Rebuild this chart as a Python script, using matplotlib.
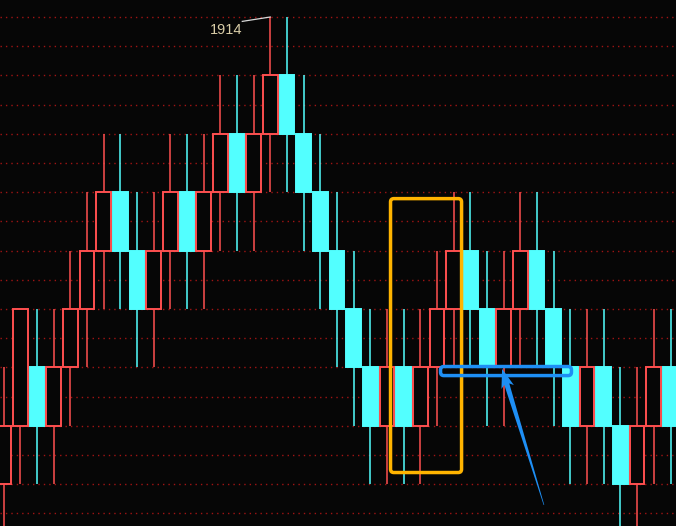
import matplotlib
matplotlib.use("Agg")
import matplotlib.pyplot as plt
from matplotlib.patches import Rectangle, FancyBboxPatch, Polygon
import numpy as np

# renko style bricks, price in points (grid every 1 point, brick = 2 points)
opens = [1898, 1900, 1902, 1900, 1902, 1904, 1906, 1908, 1906, 1904,
         1906, 1908, 1906, 1908, 1910, 1908, 1910, 1912, 1910, 1908,
         1906, 1904, 1902, 1900, 1902, 1900, 1902, 1904, 1906, 1904,
         1902, 1904, 1906, 1904, 1902, 1900, 1902, 1900, 1898, 1900,
         1902]
closes = [1900, 1904, 1900, 1902, 1904, 1906, 1908, 1906, 1904, 1906,
          1908, 1906, 1908, 1910, 1908, 1910, 1912, 1910, 1908, 1906,
          1904, 1902, 1900, 1902, 1900, 1902, 1904, 1906, 1904, 1902,
          1904, 1906, 1904, 1902, 1900, 1902, 1900, 1898, 1900, 1902,
          1900]
highs = [1902, 1904, 1904, 1904, 1906, 1908, 1910, 1910, 1908, 1908,
         1910, 1910, 1910, 1912, 1912, 1912, 1914, 1914, 1912, 1910,
         1908, 1906, 1904, 1904, 1904, 1904, 1906, 1908, 1908, 1906,
         1906, 1908, 1908, 1906, 1904, 1904, 1904, 1902, 1902, 1904,
         1904]
lows = [1896, 1898, 1898, 1898, 1900, 1902, 1904, 1904, 1902, 1902,
        1904, 1904, 1904, 1906, 1906, 1906, 1908, 1908, 1906, 1904,
        1902, 1900, 1898, 1898, 1898, 1898, 1900, 1902, 1902, 1900,
        1900, 1902, 1902, 1900, 1898, 1898, 1898, 1896, 1896, 1898,
        1898]
peak_label = "1914"

# highlighted areas (candle index, price)
yellow_box = (23.21, 1898.40, 27.47, 1907.78)
blue_box = (26.21, 1901.72, 34.06, 1902.03)
arrow_tail = (32.41, 1897.29)
arrow_tip = (29.9, 1901.95)

BG = "#060606"
RED = "#ff5050"
CYAN = "#52ffff"
GRID = "#a01414"

W, H = 676, 526
fig = plt.figure(figsize=(W / 100, H / 100), dpi=100, facecolor=BG)
ax = fig.add_axes([0, 0, 1, 1])
ax.set_facecolor(BG)
xmin, xmax = -0.21, -0.21 + W / 16.675
ymin, ymax = 1914 - 509 / 29.2, 1914 + 17 / 29.2
ax.set_xlim(xmin, xmax)
ax.set_ylim(ymin, ymax)
ax.axis("off")
sx = W / (xmax - xmin)
sy = H / (ymax - ymin)

for p in range(1896, 1915):
    ax.axhline(p, color=GRID, lw=1.0, linestyle=(0, (1.0, 2.9)), zorder=1)

bw = 0.88
for i, (o, c, h, l) in enumerate(zip(opens, closes, highs, lows)):
    up = c > o
    col = RED if up else CYAN
    top, bot = max(o, c), min(o, c)
    if h > top:
        ax.plot([i, i], [top, h], color=col, lw=1.1, zorder=2, solid_capstyle="butt")
    if l < bot:
        ax.plot([i, i], [l, bot], color=col, lw=1.1, zorder=2, solid_capstyle="butt")
    ax.add_patch(Rectangle((i - bw / 2, bot), bw, top - bot,
                           facecolor=BG if up else col, edgecolor=col,
                           lw=1.4, zorder=3))

# peak label
pk = int(np.argmax(highs))
ax.text(pk - 2.65, highs[pk] - 0.45, peak_label, color="#d8cca6", fontsize=10.5,
        family="Liberation Sans", ha="center", va="center", zorder=5)
ax.plot([pk - 1.68, pk], [highs[pk] - 0.15, highs[pk]], color="#d8d8d8", lw=0.9, zorder=5)


def rbox(box, color, lw):
    x0, y0, x1, y1 = box
    ax.add_patch(FancyBboxPatch((x0, y0), x1 - x0, y1 - y0,
                                boxstyle="round,pad=0,rounding_size=0.2",
                                mutation_aspect=sx / sy,
                                facecolor="none", edgecolor=color, lw=lw, zorder=6))


rbox(yellow_box, "#ffb400", 2.5)
rbox(blue_box, "#1e8ff5", 2.5)

# tapered arrow, built in pixel space
S = np.array([arrow_tail[0] * sx, arrow_tail[1] * sy])
T = np.array([arrow_tip[0] * sx, arrow_tip[1] * sy])
d = (T - S) / np.linalg.norm(T - S)
n = np.array([-d[1], d[0]])
B = T - d * 16
pts = [S + n * 0.3, B + n * 2.6, B + n * 6.5 - d * 3, T, B - n * 6.5 - d * 3, B - n * 2.6, S - n * 0.3]
pts = [(q[0] / sx, q[1] / sy) for q in pts]
ax.add_patch(Polygon(pts, closed=True, facecolor="#1e8ff5", edgecolor="none", zorder=7))

fig.savefig("out.png", dpi=100, facecolor=BG)
